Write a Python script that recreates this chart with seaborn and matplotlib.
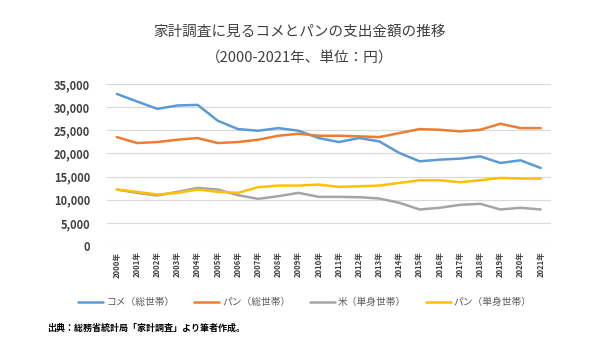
import numpy as np
import pandas as pd
import matplotlib
matplotlib.use("Agg")
import matplotlib.pyplot as plt
import seaborn as sns

years = [f"{y}年" for y in range(2000, 2022)]
kome_total = [32840, 31200, 29620, 30340, 30480, 27040, 25250, 24890, 25460, 24890, 23310, 22450,
              23310, 22590, 20080, 18290, 18650, 18860, 19360, 17930, 18500, 16850]
pan_total = [23520, 22230, 22450, 22950, 23310, 22230, 22450, 22950, 23810, 24240, 23810, 23810,
             23670, 23520, 24390, 25250, 25100, 24750, 25100, 26390, 25460, 25460]
kome_single = [12190, 11480, 10900, 11690, 12550, 12190, 10970, 10180, 10760, 11480, 10610, 10610,
               10540, 10260, 9320, 7890, 8250, 8890, 9110, 7890, 8250, 7890]
pan_single = [12190, 11690, 11120, 11480, 12190, 11690, 11480, 12700, 13050, 13050, 13270, 12770,
              12910, 13050, 13630, 14200, 14200, 13770, 14200, 14700, 14560, 14560]
series_names = ["コメ（総世帯）", "パン（総世帯）", "米（単身世帯）", "パン（単身世帯）"]
colors = ["#5B9BD5", "#ED7D31", "#A5A5A5", "#FFC000"]

sns.set_theme(style="white")
plt.rcParams['font.family'] = ['Noto Sans CJK JP', 'DejaVu Sans']

df = pd.DataFrame({"year": years * 4,
                   "value": kome_total + pan_total + kome_single + pan_single,
                   "series": sum([[n] * len(years) for n in series_names], [])})
df["x"] = list(range(len(years))) * 4

fig = plt.figure(figsize=(6, 3.37), dpi=100)
ax = fig.add_axes([0.178, 0.270, 0.740, 0.481])
sns.lineplot(data=df, x="x", y="value", hue="series", hue_order=series_names,
             palette=colors, linewidth=1.8, ax=ax, legend=False)

ax.set_xlim(-0.5, len(years) - 0.5)
ax.set_ylim(0, 35000)
ax.set_yticks(range(0, 35001, 5000))
ax.set_yticklabels([f"{v:,}" for v in range(0, 35001, 5000)], fontsize=8, fontweight="bold", color="#404040")
ax.set_xticks(range(len(years)))
ax.set_xticklabels(years, rotation=90, fontsize=5.5, fontweight="bold", color="#404040")
ax.tick_params(axis="both", length=0, pad=4)
ax.tick_params(axis="y", pad=12)
ax.grid(axis="y", color="#D9D9D9", linewidth=0.8)
for s in ax.spines.values():
    s.set_visible(False)
ax.set_xlabel("")
ax.set_ylabel("")

handles = [plt.Line2D([], [], color=c, linewidth=1.8) for c in colors]
fig.legend(handles, series_names, loc="center", bbox_to_anchor=(0.508, 0.103), ncol=4, frameon=False,
           fontsize=7, labelcolor="#595959", handlelength=2.6, handletextpad=0.3, columnspacing=2.0)

fig.text(0.5, 0.905, "家計調査に見るコメとパンの支出金額の推移", ha="center", va="center", fontsize=10.5, color="#404040")
fig.text(0.5, 0.828, "（2000-2021年、単位：円）", ha="center", va="center", fontsize=10.5, color="#404040")
fig.text(0.078, 0.027, "出典：総務省統計局「家計調査」より筆者作成。", ha="left", va="center", fontsize=6.5, fontweight="bold", color="#000000")

fig.savefig("out.png", dpi=100)
